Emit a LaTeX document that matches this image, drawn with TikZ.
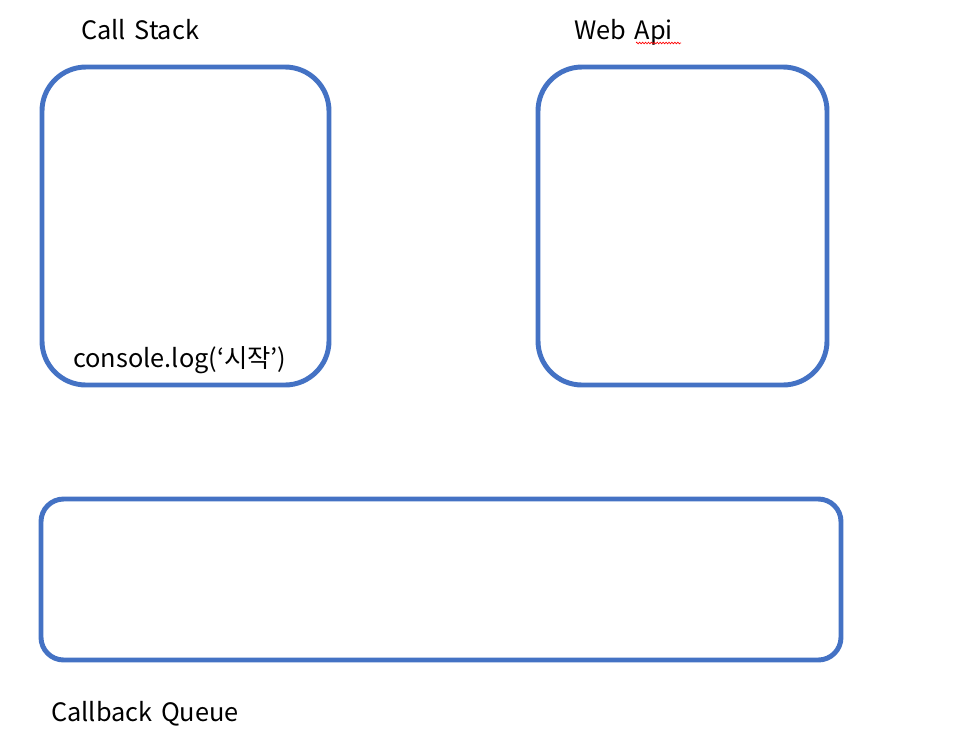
\documentclass[tikz,border=0pt]{standalone}
\usepackage{fontspec}
\setmainfont[WordSpace=1.5]{Noto Sans CJK KR}
\usetikzlibrary{decorations.pathmorphing}
\definecolor{boxblue}{HTML}{4472C4}
\begin{document}
\begin{tikzpicture}[x=0.75pt,y=-0.75pt,
  panel/.style={draw=boxblue,line width=3.7pt,rectangle,inner sep=0pt},
  label/.style={inner sep=0pt,anchor=base west,font=\fontsize{19pt}{23pt}\selectfont}]
\useasboundingbox[fill=white] (0,0) rectangle (956,754);

% three containers
\node[panel,rounded corners=33pt,minimum width={287*0.75pt},minimum height={318*0.75pt}] (stack) at (185.5,226) {};
\node[panel,rounded corners=33pt,minimum width={289*0.75pt},minimum height={318*0.75pt}] (webapi) at (682.5,226) {};
\node[panel,rounded corners=17pt,minimum width={800*0.75pt},minimum height={161*0.75pt}] (queue) at (441,579.5) {};

% titles
\node[label] (stacktitle) at (81,39) {Call Stack};
\node[label] (apititle) at (574,39) {Web Api};
\node[label] (queuetitle) at (51,721) {Callback Queue};

% frame on the stack
\node[label] (frame) at (73,367) {console.log(‘시작’)};

% spell-check squiggle under "Api"
\coordinate (sqa) at (636,43);
\coordinate (sqb) at (681,43);
\draw[red,line width=0.5pt,decorate,decoration={zigzag,amplitude=0.6pt,segment length=2.2pt}] (sqa) -- (sqb);
\end{tikzpicture}
\end{document}
